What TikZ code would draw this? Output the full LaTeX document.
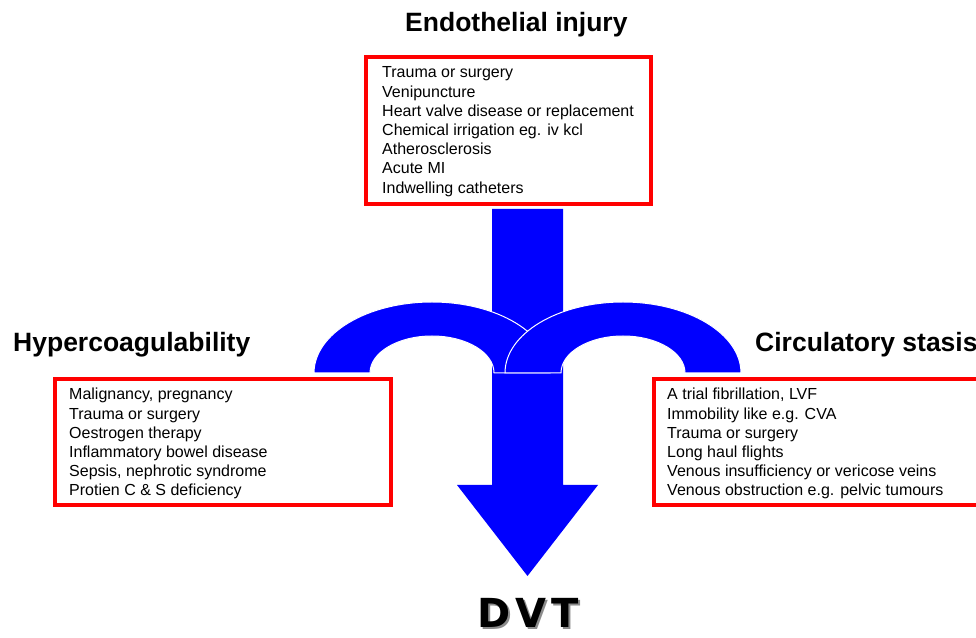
\documentclass[tikz,border=0pt]{standalone}
\usepackage{fontspec}
\setmainfont{Liberation Sans}
\newfontfamily\dvtfont{DejaVu Sans}
\definecolor{pblue}{RGB}{0,0,255}
\definecolor{pred}{RGB}{255,0,0}
\newcommand{\dvtword}{D\hspace{5pt}V\hspace{5pt}T}
\begin{document}
\begin{tikzpicture}[x=1pt,y=1pt,
  redbox/.style={draw=pred,line width=4pt},
  bluearch/.style={fill=pblue,draw=white,line width=1pt},
  title/.style={font=\fontsize{26.5}{30}\selectfont\bfseries,inner sep=0pt,anchor=base west},
  item/.style={font=\fontsize{16}{19}\selectfont,inner sep=0pt,anchor=base west},
  dvt/.style={font=\dvtfont\fontsize{40}{44}\selectfont\bfseries,inner sep=0pt,anchor=base}]
\useasboundingbox (0,0) rectangle (976,637);
\fill[white] (0,0) rectangle (976,637);
% big arrow
\fill[pblue] (492,428) -- (492,152) -- (457,152) -- (527.5,61) -- (598,152) -- (563,152) -- (563,428) -- cycle;
% arches
\path[bluearch] (314,264) arc[start angle=180,end angle=0,x radius=118,y radius=71]
  -- (494,264) arc[start angle=0,end angle=180,x radius=62,y radius=37] -- cycle;
\path[bluearch] (505,264) arc[start angle=180,end angle=0,x radius=118,y radius=71]
  -- (685,264) arc[start angle=0,end angle=180,x radius=62,y radius=37] -- cycle;
% boxes
\draw[redbox] (366,580) rectangle (651,433);
\draw[redbox] (55,258) rectangle (391,132);
\draw[redbox] (985,258) -- (654,258) -- (654,132) -- (985,132);
% titles
\node[title] (endo) at (405,605) {Endothelial injury};
\node[title] (hyper) at (13,285) {Hypercoagulability};
\node[title] (circ) at (755,285) {Circulatory stasis};
% top list
\foreach \t [count=\i] in {Trauma or surgery,Venipuncture,Heart valve disease or replacement,Chemical irrigation eg. iv kcl,Atherosclerosis,Acute MI,Indwelling catheters}
  \node[item] (e\i) at (382,{559-19.2*(\i-1)}) {\t};
% left list
\foreach \t [count=\i] in {{Malignancy, pregnancy},Trauma or surgery,Oestrogen therapy,Inflammatory bowel disease,{Sepsis, nephrotic syndrome},Protien C \& S deficiency}
  \node[item] (h\i) at (69,{237-19.2*(\i-1)}) {\t};
% right list
\foreach \t [count=\i] in {{A trial fibrillation, LVF},Immobility like e.g. CVA,Trauma or surgery,Long haul flights,Venous insufficiency or vericose veins,Venous obstruction e.g. pelvic tumours}
  \node[item] (c\i) at (667,{237-19.2*(\i-1)}) {\t};
% DVT with shadow
\node[dvt] (dvt) at (528,10) {\makebox[0pt][l]{\hspace{2pt}\raisebox{-2pt}{\color{black!45}\dvtword}}\dvtword};
\end{tikzpicture}
\end{document}
